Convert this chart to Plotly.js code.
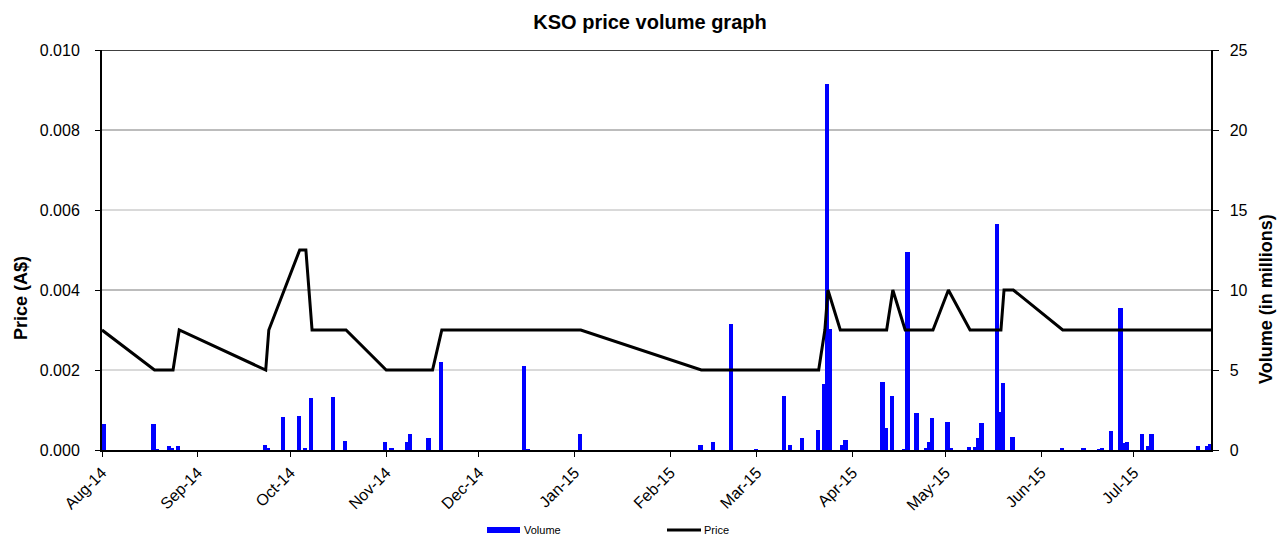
<!DOCTYPE html>
<html>
<head>
<meta charset="utf-8">
<script src="https://cdn.plot.ly/plotly-3.0.1.min.js"></script>
<style>html,body{margin:0;padding:0;background:#fff;}#chart{width:1278px;height:535px;}</style>
</head>
<body>
<div id="chart"></div>
<script>
// Price series (A$)
const priceDates = ['2014-08-01','2014-08-18','2014-08-24','2014-08-26','2014-09-23','2014-09-24','2014-10-04','2014-10-06','2014-10-08','2014-10-19','2014-11-01','2014-11-16','2014-11-19','2015-01-03','2015-02-11','2015-03-21','2015-03-23','2015-03-24','2015-03-28','2015-04-12','2015-04-14','2015-04-18','2015-04-27','2015-05-02','2015-05-09','2015-05-19','2015-05-20','2015-05-23','2015-06-08','2015-07-26'];
const priceValues = [0.003,0.002,0.002,0.003,0.002,0.003,0.005,0.005,0.003,0.003,0.002,0.002,0.003,0.003,0.002,0.002,0.003,0.004,0.003,0.003,0.004,0.003,0.003,0.004,0.003,0.003,0.004,0.004,0.003,0.003];

// Volume series (millions)
const volumeDates = ['2014-08-01','2014-08-17','2014-08-18','2014-08-22','2014-08-23','2014-08-25','2014-09-22','2014-09-23','2014-09-28','2014-10-03','2014-10-05','2014-10-07','2014-10-14','2014-10-18','2014-10-31','2014-11-02','2014-11-07','2014-11-08','2014-11-14','2014-11-18','2014-12-15','2014-12-16','2015-01-02','2015-02-10','2015-02-14','2015-02-20','2015-02-28','2015-03-09','2015-03-11','2015-03-15','2015-03-20','2015-03-22','2015-03-23','2015-03-24','2015-03-28','2015-03-29','2015-04-10','2015-04-11','2015-04-13','2015-04-17','2015-04-18','2015-04-21','2015-04-24','2015-04-25','2015-04-26','2015-05-01','2015-05-02','2015-05-08','2015-05-10','2015-05-11','2015-05-12','2015-05-17','2015-05-18','2015-05-19','2015-05-22','2015-06-07','2015-06-14','2015-06-19','2015-06-20','2015-06-23','2015-06-26','2015-06-27','2015-06-28','2015-07-03','2015-07-05','2015-07-06','2015-07-21','2015-07-24','2015-07-25'];
const volumeValues = [1.6,1.65,0.05,0.25,0.12,0.25,0.3,0.1,2.05,2.1,0.1,3.25,3.3,0.55,0.5,0.12,0.5,1.0,0.75,5.5,5.25,0.05,1.0,0.3,0.48,7.9,0.05,3.35,0.3,0.75,1.25,4.15,22.85,7.55,0.3,0.65,4.25,1.4,3.35,0.05,12.35,2.3,0.1,0.48,2.0,1.75,0.15,0.2,0.2,0.75,1.7,14.15,2.4,4.2,0.8,0.1,0.1,0.07,0.1,1.2,8.85,0.45,0.5,1.0,0.25,1.0,0.25,0.25,0.35];

const titleText = 'KSO price volume graph';
const priceAxisTitle = 'Price (A$)';
const volumeAxisTitle = 'Volume (in millions)';
const legendLabels = ['Volume', 'Price'];
const priceGrid = [0.002, 0.004, 0.006, 0.008, 0.010];

const FONT = 'Liberation Sans, Arial, sans-serif';
const DAY = 86400000;

const L = 102, R = 1211, T = 50, B = 450;
const pw = R - L, ph = B - T;
const px = v => (v - L) / pw;
const py = v => (B - v) / ph;

const traces = [
  {
    type: 'bar', x: volumeDates, y: volumeValues, yaxis: 'y',
    width: 1.4 * DAY, offset: 0,
    marker: {color: '#0000FF', line: {width: 0}},
    name: legendLabels[0], showlegend: false, hoverinfo: 'x+y'
  },
  {
    type: 'scatter', mode: 'lines', x: priceDates, y: priceValues, yaxis: 'y2',
    line: {color: '#000000', width: 3}, name: legendLabels[1], showlegend: false
  }
];

const gridColors = ['#b4b4b4', '#7a7a7a', '#b4b4b4', '#7a7a7a', '#000000'];
const shapes = priceGrid.map((g, i) => ({
  type: 'line', xref: 'paper', yref: 'y2', x0: 0, x1: 1, y0: g, y1: g,
  line: {color: gridColors[i], width: i === 4 ? 1.5 : 1}, layer: 'below'
}));
// legend swatches
shapes.push({type: 'rect', xref: 'paper', yref: 'paper', x0: px(487), x1: px(520), y0: py(533), y1: py(527),
  fillcolor: '#0000FF', line: {width: 0}});
shapes.push({type: 'line', xref: 'paper', yref: 'paper', x0: px(667), x1: px(701), y0: py(530), y1: py(530),
  line: {color: '#000000', width: 3}});

const annotations = [
  {xref: 'paper', yref: 'paper', x: px(522), y: py(529.5), text: legendLabels[0], showarrow: false,
   xanchor: 'left', yanchor: 'middle', font: {family: FONT, size: 11, color: '#000'}},
  {xref: 'paper', yref: 'paper', x: px(702), y: py(529.5), text: legendLabels[1], showarrow: false,
   xanchor: 'left', yanchor: 'middle', font: {family: FONT, size: 11, color: '#000'}},
  {xref: 'paper', yref: 'paper', x: px(21), y: py(298), text: '<b>' + priceAxisTitle + '</b>', showarrow: false,
   textangle: -90, xanchor: 'center', yanchor: 'middle', font: {family: FONT, size: 18, color: '#000'}},
  {xref: 'paper', yref: 'paper', x: px(1266), y: py(299), text: '<b>' + volumeAxisTitle + '</b>', showarrow: false,
   textangle: -90, xanchor: 'center', yanchor: 'middle', font: {family: FONT, size: 18, color: '#000'}}
];

const layout = {
  width: 1278, height: 535,
  margin: {l: L, r: 1278 - R, t: T, b: 535 - B, pad: 0},
  paper_bgcolor: '#ffffff', plot_bgcolor: '#ffffff',
  font: {family: FONT, size: 16, color: '#000'},
  title: {text: '<b>' + titleText + '</b>', x: 650 / 1278, xanchor: 'center', y: 1 - 22 / 535, yanchor: 'middle',
          font: {family: FONT, size: 20, color: '#000'}},
  showlegend: false,
  bargap: 0,
  xaxis: {
    type: 'date', range: ['2014-08-01', '2015-07-26'],
    tick0: '2014-08-01', dtick: 'M1', tickformat: '%b-%y', tickangle: -45,
    ticks: 'outside', ticklen: 5, tickcolor: '#000', tickwidth: 1,
    showline: true, linecolor: '#000', linewidth: 2, showgrid: false, zeroline: false,
    tickfont: {family: FONT, size: 16, color: '#000'}
  },
  yaxis: {
    side: 'right', range: [0, 25], dtick: 5, tick0: 0,
    ticks: 'outside', ticklen: 6, tickcolor: '#000', ticklabelstandoff: 8,
    showline: true, linecolor: '#000', linewidth: 1.5, showgrid: false, zeroline: false,
    tickfont: {family: FONT, size: 16, color: '#000'}
  },
  yaxis2: {
    overlaying: 'y', side: 'left', range: [0, 0.010], dtick: 0.002, tick0: 0, tickformat: '.3f',
    ticks: 'outside', ticklen: 5, tickcolor: '#000', ticklabelstandoff: 12,
    showline: true, linecolor: '#000', linewidth: 2, showgrid: false, zeroline: false,
    tickfont: {family: FONT, size: 16, color: '#000'}
  },
  shapes: shapes,
  annotations: annotations
};

Plotly.newPlot('chart', traces, layout, {displayModeBar: false, staticPlot: true});
</script>
</body>
</html>
